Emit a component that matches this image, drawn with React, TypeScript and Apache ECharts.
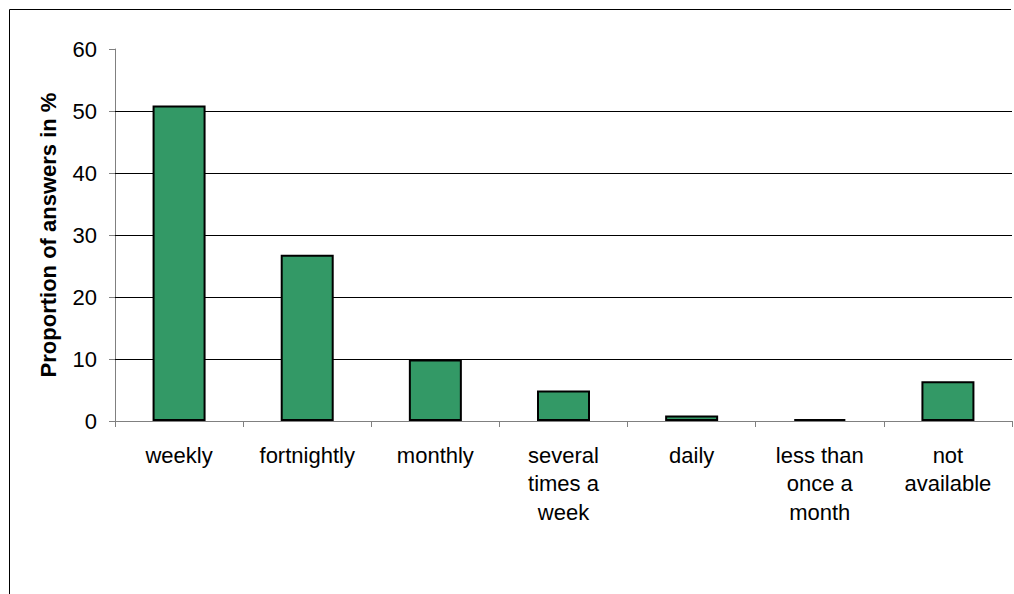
import React, { useEffect, useRef } from "react";
import * as echarts from "echarts";

const categories = [
  "weekly",
  "fortnightly",
  "monthly",
  "several\ntimes a\nweek",
  "daily",
  "less than\nonce a\nmonth",
  "not\navailable",
];
const values = [50.9, 26.8, 9.9, 4.9, 0.9, 0.3, 6.4];
const gridValues = [10, 20, 30, 40, 50];
const yAxisTitle = "Proportion of answers in %";

export default function App() {
  const ref = useRef<HTMLDivElement>(null);
  useEffect(() => {
    document.body.style.margin = "0";
    const chart = echarts.init(ref.current!, undefined, { renderer: "svg" });
    const font = "Liberation Sans, Arial, sans-serif";
    chart.setOption({
      animation: false,
      backgroundColor: "#ffffff",
      grid: { left: 115, top: 49, right: 2, bottom: 173, containLabel: false },
      graphic: [
        {
          type: "polyline",
          shape: { points: [[9.5, 594], [9.5, 9.5], [1011, 9.5]] },
          style: { stroke: "#000", lineWidth: 1, fill: "none" },
          silent: true,
        },
      ],
      xAxis: {
        type: "category",
        data: categories,
        boundaryGap: true,
        axisLine: { show: true, lineStyle: { color: "#808080", width: 1 } },
        axisTick: { show: true, length: 6, lineStyle: { color: "#808080" } },
        axisLabel: {
          interval: 0,
          margin: 20,
          color: "#000",
          fontFamily: font,
          fontSize: 22,
          lineHeight: 28.5,
        },
        splitLine: { show: false },
      },
      yAxis: {
        type: "value",
        min: 0,
        max: 60,
        interval: 10,
        name: yAxisTitle,
        nameLocation: "middle",
        nameRotate: 90,
        nameGap: 56,
        nameTextStyle: { fontFamily: font, fontSize: 22, fontWeight: "bold", color: "#000" },
        axisLine: { show: true, lineStyle: { color: "#808080", width: 1 } },
        axisTick: { show: true, length: 6, lineStyle: { color: "#808080" } },
        axisLabel: { margin: 18, color: "#000", fontFamily: font, fontSize: 22 },
        splitLine: { show: false },
      },
      series: [
        {
          type: "bar",
          data: values,
          barWidth: 53,
          itemStyle: { color: "#339966", borderColor: "#000", borderWidth: 2 },
          markLine: {
            silent: true,
            symbol: "none",
            label: { show: false },
            lineStyle: { color: "#000", type: "solid", width: 1 },
            data: gridValues.map((v) => ({ yAxis: v })),
            z: 1,
          },
          z: 3,
        },
      ],
    });
    return () => chart.dispose();
  }, []);
  return <div ref={ref} style={{ width: 1014, height: 594 }} />;
}
